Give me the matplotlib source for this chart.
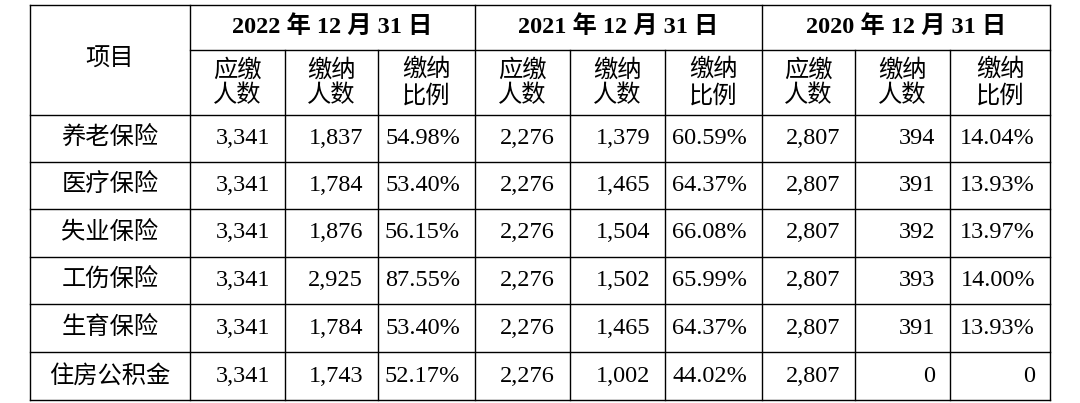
import matplotlib
matplotlib.use("Agg")
import matplotlib.pyplot as plt

years = ["2022 年 12 月 31 日", "2021 年 12 月 31 日", "2020 年 12 月 31 日"]
subheads = ["应缴\n人数", "缴纳\n人数", "缴纳\n比例"]
items = ["养老保险", "医疗保险", "失业保险", "工伤保险", "生育保险", "住房公积金"]
v2022 = [["3,341", "1,837", "54.98%"], ["3,341", "1,784", "53.40%"], ["3,341", "1,876", "56.15%"],
         ["3,341", "2,925", "87.55%"], ["3,341", "1,784", "53.40%"], ["3,341", "1,743", "52.17%"]]
v2021 = [["2,276", "1,379", "60.59%"], ["2,276", "1,465", "64.37%"], ["2,276", "1,504", "66.08%"],
         ["2,276", "1,502", "65.99%"], ["2,276", "1,465", "64.37%"], ["2,276", "1,002", "44.02%"]]
v2020 = [["2,807", "394", "14.04%"], ["2,807", "391", "13.93%"], ["2,807", "392", "13.97%"],
         ["2,807", "393", "14.00%"], ["2,807", "391", "13.93%"], ["2,807", "0", "0"]]

fam = ["Liberation Serif", "Noto Sans CJK SC"]
fig = plt.figure(figsize=(10.8, 4.03), dpi=100)
ax = fig.add_axes([0, 0, 1, 1])
ax.set_xlim(0, 1080); ax.set_ylim(403, 0); ax.axis("off")

xs = [30, 190, 285, 378, 475, 570, 665, 762, 855, 950, 1050]
ys = [5, 50, 115, 162, 209, 257, 304, 352, 400]
lw = 1.0
for y in ys:
    x0 = 190 if y == 50 else 30
    ax.plot([x0, xs[-1]], [y, y], color="black", lw=lw)
for i, x in enumerate(xs):
    y0 = ys[1] if i in (2, 3, 5, 6, 8, 9) else ys[0]
    ax.plot([x, x], [y0, ys[-1]], color="black", lw=lw)

fs = 17.5
ax.text(110, 60, "项目", ha="center", va="center", fontsize=fs, family=fam)
for g, yr in enumerate(years):
    ax.text((xs[3*g+1] + xs[3*g+4]) / 2, 26, yr, ha="center", va="center",
            fontsize=fs, family=fam, fontweight="bold")
    for k, sh in enumerate(subheads):
        c = 3*g + 1 + k
        ax.text((xs[c] + xs[c+1]) / 2, 83, sh, ha="center", va="center",
                fontsize=fs, family=fam, linespacing=1.2)
groups = [v2022, v2021, v2020]
for r, name in enumerate(items):
    yc = (ys[r+2] + ys[r+3]) / 2
    ax.text(110, yc, name, ha="center", va="center", fontsize=fs, family=fam)
    for g, data in enumerate(groups):
        for k, val in enumerate(data[r]):
            c = 3*g + 1 + k
            ax.text(xs[c+1] - 15, yc, val, ha="right", va="center", fontsize=fs, family=fam)

fig.savefig("out.png", dpi=100)
